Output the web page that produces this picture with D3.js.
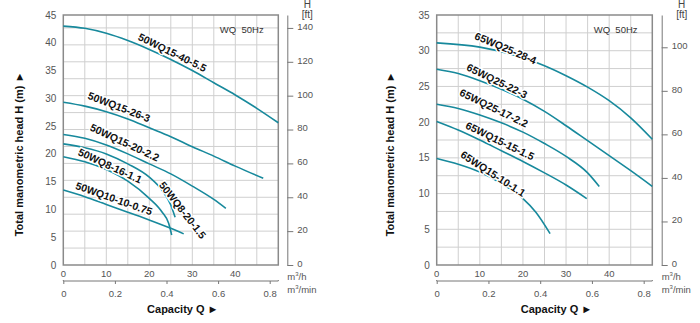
<!DOCTYPE html>
<html>
<head>
<meta charset="utf-8">
<script src="https://cdn.jsdelivr.net/npm/d3@7"></script>
<style>
	body { margin: 0; background: #fff; }
	svg { display: block; font-family: Arial, "Liberation Sans", sans-serif; }
</style>
</head>
<body>
<div id="món"></div>
<script>
// eixos comuns
const cabalTicks = [0, 10, 20, 30, 40];
const minutTicks = [0, 0.2, 0.4, 0.6, 0.8];

// gràfic 50WQ
const esqAlçTicks = [0, 5, 10, 15, 20, 25, 30, 35, 40, 45];
const esqPeuTicks = [0, 20, 40, 60, 80, 100, 120, 140];
const esqNoms = ['50WQ15-40-5.5', '50WQ15-26-3', '50WQ15-20-2.2', '50WQ8-20-1.5', '50WQ8-16-1.1', '50WQ10-10-0.75'];
const wq15_40 = [[0, 43], [5, 42.6], [10, 41.7], [15, 40.4], [20, 38.8], [25, 37.0], [30, 35.0], [35, 32.8], [40, 30.6], [45, 28.2], [50, 25.6]];
const wq15_26 = [[0, 29.3], [5, 28.6], [10, 27.6], [15, 26.3], [20, 24.7], [25, 23.1], [30, 21.3], [35, 19.6], [40, 17.8], [46.5, 15.6]];
const wq15_20 = [[0, 23.5], [5, 22.8], [10, 21.6], [15, 20.0], [20, 18.2], [25, 16.4], [30, 14.2], [35, 11.8], [37.8, 10.2]];
const wq8_20 = [[0, 21.8], [5, 21.1], [10, 20.0], [15, 18.2], [20, 15.8], [23, 13.4], [25, 10.8], [26, 8.6]];
const wq8_16 = [[0, 19.5], [5, 18.6], [10, 17.2], [15, 15.1], [20, 12.0], [23, 9.5], [24.5, 7.5], [25.2, 5.4]];
const wq10_10 = [[0, 13.5], [5, 12.3], [10, 10.9], [15, 9.5], [20, 8.1], [25, 6.6], [28, 5.6]];

// gràfic 65WQ
const dretAlçTicks = [0, 5, 10, 15, 20, 25, 30, 35];
const dretPeuTicks = [0, 20, 40, 60, 80, 100];
const dretNoms = ['65WQ25-28-4', '65WQ25-22-3', '65WQ25-17-2.2', '65WQ15-15-1.5', '65WQ15-10-1.1'];
const wq25_28 = [[0, 31.1], [10, 30.5], [20, 29.0], [25, 27.9], [30, 26.5], [35, 24.9], [40, 23.0], [45, 20.6], [50, 17.6]];
const wq25_22 = [[0, 27.4], [5, 26.8], [10, 25.8], [15, 24.6], [20, 23.2], [25, 21.5], [30, 19.5], [35, 17.4], [40, 15.3], [45, 13.2], [50, 11.0]];
const wq25_17 = [[0, 22.5], [5, 21.9], [10, 21.0], [15, 19.9], [20, 18.6], [25, 17.0], [30, 15.2], [35, 12.9], [37.7, 11.0]];
const wq15_15 = [[0, 20.1], [5, 18.9], [10, 17.5], [15, 16.0], [20, 14.5], [25, 12.9], [30, 11.2], [34.8, 9.3]];
const wq15_10 = [[0, 14.9], [5, 14.1], [10, 13.0], [15, 11.4], [20, 9.3], [23, 7.4], [26.3, 4.4]];

// on va cada rètol (en unitats del gràfic) i quant gira
const esqRètols = [
	{q: 25.4, h: 38.3, gir: 26},
	{q: 13.0, h: 28.5, gir: 21},
	{q: 14.3, h: 22.1, gir: 25},
	{q: 27.8, h: 9.9, gir: 52},
	{q: 10.9, h: 17.9, gir: 25},
	{q: 11.8, h: 12.0, gir: 19.5}
];
const dretRètols = [
	{q: 16.0, h: 30.4, gir: 23},
	{q: 14.0, h: 25.8, gir: 26},
	{q: 13.3, h: 22.0, gir: 26},
	{q: 14.7, h: 17.4, gir: 26},
	{q: 13.1, h: 12.8, gir: 33}
];

const blau = '#17899c';
const PEU = 0.3048;

const llenç = d3.select('#món').append('svg')
	.attr('width', 700)
	.attr('height', 323);

function gràfic(c) {
	const g = llenç.append('g');
	const x = d3.scaleLinear().domain([0, 50]).range([c.x0, c.x1]);
	const y = d3.scaleLinear().domain([0, c.hMax]).range([265, 15]);
	const yPeu = d3.scaleLinear().domain([0, c.hMax / PEU]).range([265, 15]);
	const xMin = d3.scaleLinear().domain([0, 50 / 60]).range([c.x0, c.x1]);

	// quadrícula
	g.selectAll('.gv').data(d3.range(5, 50, 5)).join('line')
		.attr('x1', d => x(d)).attr('x2', d => x(d))
		.attr('y1', y(0)).attr('y2', y(c.hMax))
		.attr('stroke', '#cfcfcf').attr('stroke-width', 1);
	g.selectAll('.gh').data(c.grill).join('line')
		.attr('x1', x(0)).attr('x2', x(50))
		.attr('y1', d => c.grillY(d)).attr('y2', d => c.grillY(d))
		.attr('stroke', '#cfcfcf').attr('stroke-width', 1);

	g.append('rect')
		.attr('x', x(0)).attr('y', y(c.hMax))
		.attr('width', x(50) - x(0)).attr('height', y(0) - y(c.hMax))
		.attr('fill', 'none').attr('stroke', '#8a8a8a').attr('stroke-width', 1.5);

	// etiquetes de l'alçada (m)
	g.selectAll('.ty').data(c.alçTicks).join('text')
		.attr('x', x(0) - 7).attr('y', d => y(d))
		.attr('text-anchor', 'end').attr('dominant-baseline', 'central')
		.attr('font-size', 10).attr('fill', '#555')
		.text(d => d);

	// eix de peus a la dreta
	const axPeu = d3.axisRight(yPeu).tickValues(c.peuTicks).tickSize(6).tickSizeOuter(0).tickPadding(4);
	const gp = g.append('g').attr('transform', `translate(${c.xPeu},0)`).call(axPeu);
	gp.select('.domain').attr('stroke', '#777');
	gp.selectAll('.tick line').attr('stroke', '#777');
	gp.selectAll('.tick text').attr('font-size', 9.5).attr('fill', '#555')
		.attr('font-family', null).attr('dy', '0.15em');
	g.append('text').attr('x', c.xPeu + 20).attr('y', 8)
		.attr('text-anchor', 'middle').attr('font-size', 10).attr('fill', '#444').text('H');
	g.append('text').attr('x', c.xPeu + 20).attr('y', 17.5)
		.attr('text-anchor', 'middle').attr('font-size', 10).attr('fill', '#444').text('[ft]');

	// cabal m³/h
	g.selectAll('.tx').data(cabalTicks).join('text')
		.attr('x', d => x(d)).attr('y', 277)
		.attr('text-anchor', 'middle').attr('font-size', 9.5).attr('fill', '#555')
		.text(d => d);
	g.append('text').attr('x', c.xPeu).attr('y', 279.5)
		.attr('font-size', 9.5).attr('fill', '#555')
		.html('m<tspan dy="-4" font-size="6">3</tspan><tspan dy="4">/h</tspan>');

	// cabal m³/min
	const axMin = d3.axisBottom(xMin).tickValues(minutTicks).tickSize(3).tickSizeOuter(0).tickPadding(6)
		.tickFormat(d => d);
	const gm = g.append('g').attr('transform', 'translate(0,281)').call(axMin);
	gm.select('.domain').attr('d', `M${x(0)},-1V0H${x(50)}V-1`).attr('stroke', '#777');
	gm.selectAll('.tick line').attr('stroke', '#777');
	gm.selectAll('.tick text').attr('font-size', 9.5).attr('fill', '#555').attr('font-family', null);
	g.append('text').attr('x', c.xPeu).attr('y', 293)
		.attr('font-size', 9.5).attr('fill', '#555')
		.html('m<tspan dy="-4" font-size="6">3</tspan><tspan dy="4">/min</tspan>');

	// títols dels eixos
	g.append('text').attr('x', (x(0) + x(50)) / 2 + 12).attr('y', 313)
		.attr('text-anchor', 'middle').attr('font-size', 11).attr('font-weight', 'bold').attr('fill', '#111')
		.text('Capacity Q  \u25BA');
	g.append('text')
		.attr('transform', `translate(${c.xTítol},154) rotate(-90)`)
		.attr('text-anchor', 'middle').attr('dominant-baseline', 'central')
		.attr('font-size', 11).attr('font-weight', 'bold').attr('fill', '#111')
		.text('Total manometric head H (m)  \u25BA');

	g.append('text').attr('x', x(0) + 0.83 * (x(50) - x(0))).attr('y', 33)
		.attr('text-anchor', 'middle').attr('font-size', 9.5).attr('fill', '#333')
		.attr('xml:space', 'preserve')
		.text('WQ  50Hz');

	// corbes
	const línia = d3.line()
		.x(d => x(d[0])).y(d => y(d[1]))
		.curve(d3.curveMonotoneX);
	g.selectAll('.corba').data(c.corbes).join('path')
		.attr('d', línia)
		.attr('fill', 'none').attr('stroke', blau).attr('stroke-width', 1.6);

	// rètols de les corbes
	g.selectAll('.rètol').data(c.rètols).join('text')
		.attr('transform', d => `translate(${x(d.q)},${y(d.h)}) rotate(${d.gir})`)
		.attr('text-anchor', 'middle').attr('dominant-baseline', 'central')
		.attr('font-size', 10.5).attr('font-weight', 'bold').attr('fill', '#111')
		.attr('stroke', '#fff').attr('stroke-width', 3).attr('paint-order', 'stroke')
		.text((d, i) => c.noms[i]);
}

gràfic({
	x0: 63.3, x1: 278.3, hMax: 45, xPeu: 287.3, xTítol: 18.5,
	alçTicks: esqAlçTicks, peuTicks: esqPeuTicks,
	grill: d3.range(10, 150, 10),
	grillY: d => 265 - d * PEU * 250 / 45,
	corbes: [wq15_40, wq15_26, wq15_20, wq8_20, wq8_16, wq10_10],
	noms: esqNoms, rètols: esqRètols
});

gràfic({
	x0: 436.7, x1: 652.3, hMax: 35, xPeu: 661.7, xTítol: 390,
	alçTicks: dretAlçTicks, peuTicks: dretPeuTicks,
	grill: d3.range(2.5, 35, 2.5),
	grillY: d => 265 - d * 250 / 35,
	corbes: [wq25_28, wq25_22, wq25_17, wq15_15, wq15_10],
	noms: dretNoms, rètols: dretRètols
});
</script>
</body>
</html>
